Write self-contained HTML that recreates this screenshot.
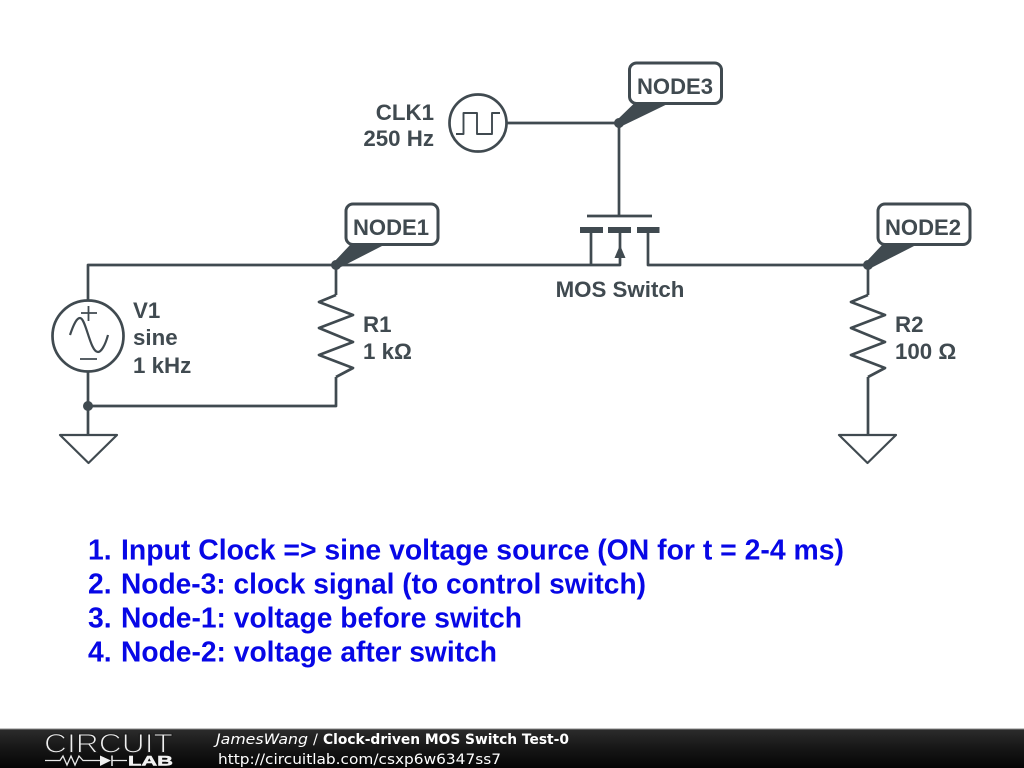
<!DOCTYPE html>
<html>
<head>
<meta charset="utf-8">
<style>
html,body{margin:0;padding:0;background:#fff;width:1024px;height:768px;overflow:hidden}
svg{display:block}
.l{font-family:"Liberation Sans",sans-serif;font-weight:bold;font-size:22.3px;fill:#404a50}
.b{font-family:"Liberation Sans",sans-serif;font-weight:bold;font-size:28.3px;fill:#0707e6}
.w{fill:none;stroke:#404a50;stroke-width:2.7;stroke-linejoin:round}
.t{fill:none;stroke:#404a50;stroke-width:2.2;stroke-linejoin:round}
.n{fill:#fff;stroke:#404a50;stroke-width:3}
.d{font-family:"DejaVu Sans",sans-serif;font-size:14.5px;fill:#fff}
</style>
</head>
<body>
<svg width="1024" height="768" viewBox="0 0 1024 768" xmlns="http://www.w3.org/2000/svg">
<defs>
<linearGradient id="g" x1="0" y1="0" x2="0" y2="1">
<stop offset="0" stop-color="#2c2c2c"/><stop offset="0.5" stop-color="#161616"/><stop offset="1" stop-color="#050505"/>
</linearGradient>
</defs>
<rect width="1024" height="768" fill="#fff"/>

<!-- wires -->
<path class="w" d="M88 302V265H620V233"/>
<path class="w" d="M591 230V265"/>
<path class="w" d="M648 230V265H868V295"/>
<path class="w" d="M336 265V295"/>
<path class="w" d="M336 377V406H88"/>
<path class="w" d="M88 372V435"/>
<path class="w" d="M868 377V435"/>
<path class="w" d="M507 123H619V216"/>

<!-- MOSFET -->
<path class="w" d="M587 216H652"/>
<rect x="580" y="227" width="23" height="6" fill="#404a50"/>
<rect x="608" y="227" width="23" height="6" fill="#404a50"/>
<rect x="637" y="227" width="22.500" height="6" fill="#404a50"/>
<path d="M620 245L625.500 258H614.500Z" fill="#404a50"/>

<!-- Resistors -->
<path class="w" d="M336 295L319 302 353 315 319 328 353 342 319 355 353 368 336 377"/>
<path class="w" d="M868 295L851 302 885 315 851 328 885 342 851 355 885 368 868 377"/>

<!-- Grounds -->
<path class="t" d="M60 435H117L88.500 463Z"/>
<path class="t" d="M839 435H896L867.500 463Z"/>

<!-- V1 -->
<circle cx="88" cy="336" r="35.500" fill="#fff" stroke="#404a50" stroke-width="2.700"/>
<path class="t" d="M70 335C74 323 77 318 80 318C86 318 90 352 98 352C101 352 105 346 108 335"/>
<path class="t" stroke-linecap="butt" d="M81 313H97M88.500 306V321M80 359H97" style="stroke-width:1.800"/>

<!-- CLK -->
<circle cx="478" cy="123" r="28.500" fill="#fff" stroke="#404a50" stroke-width="2.700"/>
<path class="t" d="M456 134H463.500V113H477V134H492V113H500" style="stroke-width:1.900"/>

<!-- Junctions -->
<circle cx="88" cy="406" r="5" fill="#404a50"/>
<circle cx="336" cy="265" r="5" fill="#404a50"/>
<circle cx="868" cy="265" r="5" fill="#404a50"/>
<circle cx="619" cy="123" r="5" fill="#404a50"/>

<!-- Node labels -->
<rect class="n" x="346" y="204" width="92" height="40.500" rx="7"/>
<rect class="n" x="878" y="204" width="92" height="40.500" rx="7"/>
<rect class="n" x="629.500" y="63" width="92" height="40.500" rx="7"/>

<!-- Callout tails -->
<path d="M350 245H384L339 268 334 262Z" fill="#404a50"/>
<path d="M882 245H916L871 268 866 262Z" fill="#404a50"/>
<path d="M633.500 104H667.500L622 126 617 120Z" fill="#404a50"/>

<text class="l" x="391" y="235" text-anchor="middle" textLength="76" lengthAdjust="spacingAndGlyphs">NODE1</text>
<text class="l" x="923" y="235" text-anchor="middle" textLength="76" lengthAdjust="spacingAndGlyphs">NODE2</text>
<text class="l" x="675" y="94" text-anchor="middle" textLength="76" lengthAdjust="spacingAndGlyphs">NODE3</text>

<!-- Text labels -->
<text class="l" x="434" y="120" text-anchor="end">CLK1</text>
<text class="l" x="434" y="146" text-anchor="end">250 Hz</text>
<text class="l" x="620" y="297" text-anchor="middle">MOS Switch</text>
<text class="l" x="133" y="318">V1</text>
<text class="l" x="133" y="345">sine</text>
<text class="l" x="133" y="373">1 kHz</text>
<text class="l" x="363" y="332">R1</text>
<text class="l" x="363" y="359">1 kΩ</text>
<text class="l" x="895" y="332">R2</text>
<text class="l" x="895" y="359">100 Ω</text>

<!-- Blue notes -->
<text class="b" x="88" y="559.500">1.</text>
<text class="b" x="121" y="559.500" textLength="723" lengthAdjust="spacingAndGlyphs">Input Clock =&gt; sine voltage source (ON for t = 2-4 ms)</text>
<text class="b" x="88" y="593.500">2.</text>
<text class="b" x="121" y="593.500" textLength="525" lengthAdjust="spacingAndGlyphs">Node-3: clock signal (to control switch)</text>
<text class="b" x="88" y="627.500">3.</text>
<text class="b" x="121" y="627.500" textLength="401" lengthAdjust="spacingAndGlyphs">Node-1: voltage before switch</text>
<text class="b" x="88" y="661.500">4.</text>
<text class="b" x="121" y="661.500" textLength="376" lengthAdjust="spacingAndGlyphs">Node-2: voltage after switch</text>

<!-- Footer -->
<rect x="0" y="729" width="1024" height="39" fill="url(#g)"/>
<rect x="0" y="728.500" width="1024" height="1" fill="#8a8a8a"/>
<text x="44" y="752.500" font-family="'Liberation Sans',sans-serif" font-size="26.500" fill="#f0f0f0" stroke="#1d1d1d" stroke-width="1.100" textLength="129" lengthAdjust="spacingAndGlyphs">CIRCUIT</text>
<path d="M45 760.500H60L63 756 67 765 71 756 75 765 79 756 83 760.500H100M112 760.500H127" fill="none" stroke="#e8e8e8" stroke-width="1.300"/>
<path d="M100 755.500L111 760.500 100 766Z" fill="#f0f0f0"/>
<path d="M112 755.500V766" stroke="#f0f0f0" stroke-width="1.500"/>
<text x="128" y="765.500" font-family="'Liberation Sans',sans-serif" font-weight="bold" font-size="14" fill="#f2f2f2" stroke="#f2f2f2" stroke-width="0.500" textLength="45" lengthAdjust="spacingAndGlyphs">LAB</text>
<text class="d" x="216" y="744" font-style="italic" textLength="92" lengthAdjust="spacingAndGlyphs">JamesWang</text>
<text class="d" x="313" y="744">/</text>
<text class="d" x="323" y="744" font-weight="bold" textLength="246" lengthAdjust="spacingAndGlyphs">Clock-driven MOS Switch Test-0</text>
<text class="d" x="218" y="764" textLength="283" lengthAdjust="spacingAndGlyphs">http://circuitlab.com/csxp6w6347ss7</text>
</svg>
</body>
</html>
